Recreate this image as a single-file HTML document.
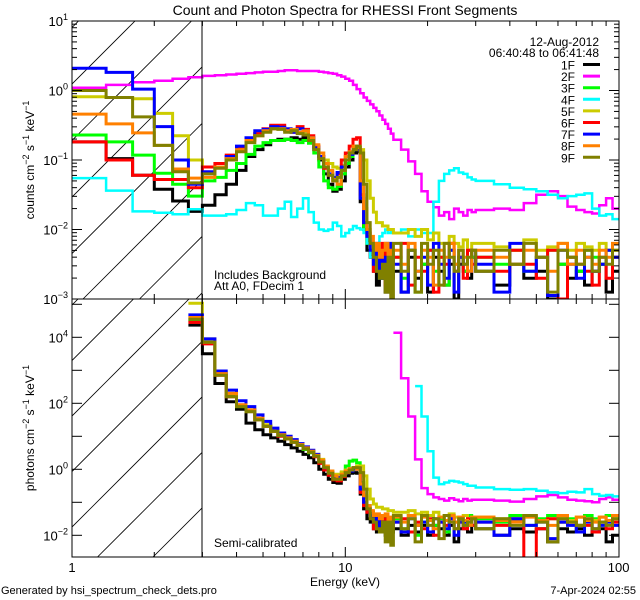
<!DOCTYPE html>
<html><head><meta charset="utf-8">
<style>
html,body{margin:0;padding:0;background:#fff;width:640px;height:600px;overflow:hidden;}
svg{display:block;font-family:"Liberation Sans","DejaVu Sans",sans-serif;}
</style></head>
<body>
<svg id="chart" width="640" height="600" viewBox="0 0 640 600" xmlns="http://www.w3.org/2000/svg">
<defs>
<clipPath id="clipTop"><rect x="72" y="21" width="547" height="278"/></clipPath>
<clipPath id="clipBot"><rect x="72" y="299" width="547" height="258"/></clipPath>
<clipPath id="hatchTop"><rect x="72" y="21" width="130" height="278"/></clipPath>
<clipPath id="hatchBot"><rect x="72" y="299" width="130" height="258"/></clipPath>
</defs>
<text x="345" y="15" font-size="14" text-anchor="middle">Count and Photon Spectra for RHESSI Front Segments</text>
<g id="hatch"></g>
<g id="series"></g>
<g id="axes"></g>
<rect x="72" y="21" width="547" height="278" fill="none" stroke="#000" stroke-width="1"/>
<rect x="72" y="299" width="547" height="258" fill="none" stroke="#000" stroke-width="1"/>
<line x1="202" y1="21" x2="202" y2="299" stroke="#000" stroke-width="1"/>
<line x1="202" y1="299" x2="202" y2="557" stroke="#000" stroke-width="1"/>
<text transform="translate(34,160) rotate(-90)" font-size="12" text-anchor="middle">counts cm<tspan dy="-5" font-size="9">−2</tspan><tspan dy="5"> s</tspan><tspan dy="-5" font-size="9">−1</tspan><tspan dy="5"> keV</tspan><tspan dy="-5" font-size="9">−1</tspan></text>
<text transform="translate(34,428) rotate(-90)" font-size="12" text-anchor="middle">photons cm<tspan dy="-5" font-size="9">−2</tspan><tspan dy="5"> s</tspan><tspan dy="-5" font-size="9">−1</tspan><tspan dy="5"> keV</tspan><tspan dy="-5" font-size="9">−1</tspan></text>
<text x="345" y="586" font-size="12" text-anchor="middle">Energy (keV)</text>
<text x="214" y="279" font-size="12">Includes Background</text>
<text x="214" y="290" font-size="12">Att A0, FDecim 1</text>
<text x="214" y="547" font-size="12">Semi-calibrated</text>
<text x="1" y="594" font-size="11">Generated by hsi_spectrum_check_dets.pro</text>
<text x="636" y="594" font-size="11" text-anchor="end">7-Apr-2024 02:55</text>
<text x="599" y="46" font-size="12" text-anchor="end">12-Aug-2012</text>
<text x="599" y="57" font-size="12" text-anchor="end">06:40:48 to 06:41:48</text>
<g id="legend"></g>
</svg>
<script>
// ---- data (log10 values) ----
const detectors = ["1F","2F","3F","4F","5F","6F","7F","8F","9F"];
const colors = ["#000000","#ff00ff","#00ff00","#00ffff","#cccc00","#ff0000","#0000ff","#ff8000","#808000"];
const xTickLabels = ["1","10","100"];
const topYTickExp = ["1","0","−1","−2","−3"];
const botYTickExp = ["4","2","0","−2"];
const energyEdges = [];
for (let i = 0; i <= 42; i++) energyEdges.push(1 + i/3);
for (let e = 16; e <= 30; e++) energyEdges.push(e);
for (let e = 35; e <= 100; e += 5) energyEdges.push(e);
const N = null;
const c1F = [-0.74,-0.98,-1.22,-1.42,-1.59,-1.74, -1.65,-1.5,-1.35,-1.15,-0.95,-0.85,-0.78,-0.72,-0.7,-0.7,-0.68,-0.7,-0.68,-0.72,-0.85,-1.0,-1.2,-1.35,-1.45,-1.42,-1.3,-1.1,-1.0,-0.9,-0.88,-1.6,-2.0,-2.3,-2.4,-2.6,-2.8,-2.5,-2.7,-2.9,-2.5,-2.7, -2.6,-2.9,-2.4,-2.7,-2.5,-2.9,-2.4,-2.6,-2.8,-2.5,-3.0,-2.5,-2.6,-2.7,-2.4, -2.6,-2.8,-2.5,-2.7,-2.6,-3.0,-2.5,-2.7,-2.6,-2.8,-2.6,-2.5,-2.9,-2.6];
const c2F = [0.04,0.08,0.12,0.14,0.17,0.19, 0.21,0.22,0.23,0.24,0.25,0.26,0.27,0.27,0.28,0.29,0.29,0.28,0.28,0.28,0.28,0.27,0.26,0.25,0.24,0.22,0.2,0.17,0.14,0.08,0.02,-0.04,-0.1,-0.15,-0.2,-0.25,-0.3,-0.36,-0.42,-0.48,-0.55,-0.62, -0.71,-0.85,-1.02,-1.2,-1.45,-1.6,-1.68,-1.8,-1.75,-1.85,-1.7,-1.75,-1.8,-1.72,-1.75, -1.72,-1.7,-1.72,-1.62,-1.5,-1.45,-1.52,-1.67,-1.72,-1.75,-1.77,-1.65,-1.55,-1.7];
const c3F = [-0.64,-0.74,-0.93,-1.19,-1.35,-1.52, -1.3,-1.25,-1.15,-1.05,-0.92,-0.8,-0.75,-0.72,-0.72,-0.7,-0.72,-0.75,-0.72,-0.76,-0.9,-1.1,-1.3,-1.4,-1.42,-1.38,-1.2,-1.05,-0.95,-0.82,-0.82,-1.5,-2.0,-2.2,-2.3,-2.5,-2.3,-2.7,-2.4,-2.3,-2.8,-2.4, -2.4,-2.7,-2.3,-2.9,-2.5,-2.3,-2.6,-2.4,-2.8,-2.3,-2.5,-2.4,-2.6,-2.3,-2.4, -2.4,-2.5,-2.3,-2.6,-2.4,-2.3,-2.5,-2.4,-2.6,-2.3,-2.4,-2.5,-2.3,-2.4];
const c4F = [-1.26,-1.44,-1.74,-1.76,-1.78,-1.71, -1.8,-1.8,-1.78,-1.72,-1.62,-1.65,-1.8,-1.8,-1.7,-1.6,-1.82,-1.7,-1.55,-1.75,-1.9,-2.0,-2.02,-2.0,-1.9,-1.95,-2.1,-2.05,-2.0,-1.95,-1.98,-2.0,-2.05,-2.2,-2.4,-2.45,-2.2,-2.1,-2.05,-2.0,-2.05,-2.02, -2.05,-2.0,-2.1,-2.0,-2.05,-2.05,-1.6,-1.3,-1.2,-1.15,-1.12,-1.18,-1.2,-1.25,-1.28, -1.3,-1.35,-1.4,-1.42,-1.45,-1.5,-1.55,-1.52,-1.5,-1.48,-1.7,-1.8,-1.78,-1.85];
const c5F = [-0.09,-0.1,-0.12,-0.33,-0.65,-1.0, -1.1,-1.1,-0.95,-0.82,-0.7,-0.62,-0.58,-0.55,-0.55,-0.57,-0.58,-0.6,-0.62,-0.7,-0.8,-0.9,-1.0,-1.05,-1.1,-1.12,-1.08,-1.0,-0.9,-0.85,-0.82,-0.85,-1.0,-1.3,-1.55,-1.75,-1.9,-1.9,-1.95,-1.95,-2.0,-2.0, -2.05,-2.05,-2.0,-2.1,-2.0,-2.15,-2.05,-2.2,-2.2,-2.1,-2.2,-2.25,-2.15,-2.3,-2.2, -2.2,-2.25,-2.3,-2.15,-2.3,-2.25,-2.2,-2.3,-2.2,-2.25,-2.3,-2.2,-2.3,-2.3];
const c6F = [-0.74,-1.0,-1.22,-1.28,-1.28,-1.4, -1.1,-1.05,-0.93,-0.83,-0.7,-0.62,-0.55,-0.5,-0.5,-0.57,-0.6,-0.52,-0.56,-0.65,-0.8,-0.95,-1.12,-1.22,-1.3,-1.2,-1.0,-0.9,-0.8,-0.7,-0.68,-1.5,-1.9,-2.05,-2.2,-2.6,-2.3,-2.5,-2.2,-2.8,-2.4,-2.3, -2.4,-2.2,-2.8,-2.4,-2.6,-2.3,-2.9,-2.4,-2.5,-2.2,-2.6,-2.4,-2.7,-2.3,-2.5, -2.4,-2.6,-2.3,-2.5,-2.7,-2.3,-3.0,-2.4,-2.5,-2.6,-2.8,-2.4,-2.7,-2.4];
const c7F = [0.32,0.26,0.02,-0.52,-1.0,-1.35, -1.17,-1.1,-0.95,-0.8,-0.68,-0.58,-0.56,-0.52,-0.53,-0.55,-0.6,-0.55,-0.58,-0.68,-0.82,-0.95,-1.1,-1.2,-1.25,-1.18,-1.1,-1.0,-0.92,-0.85,-0.85,-1.55,-1.9,-2.1,-2.3,-2.5,-2.2,-2.7,-2.4,-2.6,-2.2,-2.4, -2.5,-2.9,-2.3,-2.6,-2.4,-2.8,-2.2,-2.5,-2.7,-2.3,-2.9,-2.4,-2.5,-2.6,-2.3, -2.5,-2.9,-2.2,-2.6,-2.4,-2.95,-2.3,-2.5,-2.7,-2.4,-2.6,-2.5,-2.3,-2.4];
const c8F = [-0.34,-0.48,-0.61,-0.79,-1.13,-1.26, -1.25,-1.1,-0.98,-0.85,-0.72,-0.65,-0.58,-0.55,-0.55,-0.58,-0.56,-0.6,-0.58,-0.68,-0.78,-0.9,-1.05,-1.15,-1.28,-1.35,-1.15,-0.95,-0.88,-0.8,-0.82,-1.3,-1.7,-2.0,-2.1,-2.3,-2.2,-2.4,-2.3,-2.2,-2.5,-2.3, -2.3,-2.5,-2.2,-2.6,-2.3,-2.4,-2.8,-2.3,-2.4,-2.2,-2.5,-2.3,-2.4,-2.6,-2.3, -2.3,-2.4,-2.5,-2.3,-2.4,-2.6,-2.2,-2.5,-2.3,-2.4,-2.5,-2.3,-2.4,-2.2];
const c9F = [0.0,-0.1,-0.38,-0.79,-1.17,-1.33, -1.2,-1.12,-1.0,-0.88,-0.75,-0.65,-0.6,-0.55,-0.56,-0.6,-0.58,-0.62,-0.64,-0.72,-0.85,-0.98,-1.1,-1.22,-1.3,-1.25,-1.15,-1.0,-0.9,-0.85,-0.8,-0.9,-1.35,-1.9,-2.2,-2.4,-2.6,-2.7,-2.5,-2.9,-2.4,-3.0, -2.2,-2.6,-2.3,-2.9,-2.2,-2.5,-2.3,-2.8,-2.2,-2.4,-2.6,-2.3,-2.5,-2.4,-2.3, -2.6,-2.3,-2.5,-2.2,-2.4,-2.9,-2.3,-2.4,-2.5,-2.3,-2.6,-2.4,-2.5,-2.3];
const p1F = [N,N,N,N,N,4.37, 3.5,2.6,2.05,1.82,1.4,1.2,1.05,0.95,0.85,0.75,0.65,0.55,0.45,0.35,0.2,0.0,-0.15,-0.3,-0.4,-0.42,-0.3,-0.2,-0.12,-0.1,-0.12,-0.75,-1.2,-1.5,-1.6,-1.8,-1.9,-1.7,-1.9,-2.0,-1.7,-1.9, -1.8,-2.0,-1.7,-1.9,-1.7,-2.0,-1.7,-1.8,-2.0,-1.7,-2.2,-1.8,-1.8,-1.9,-1.7, -1.8,-2.0,-1.8,-1.9,-1.8,-2.2,-1.8,-1.9,-1.8,-2.0,-1.9,-1.8,-2.2,-2.0];
const p2F = [N,N,N,N,N,N, N,N,N,N,N,N,N,N,N,N,N,N,N,N,N,N,N,N,N,N,N,N,N,N,N,N,N,N,N,N,N,N,N,N,N,N, 4.14,2.76,1.6,0.3,-0.57,-0.75,-0.85,-0.9,-0.95,-0.88,-0.92,-0.97,-0.9,-0.95,-0.92, -0.92,-0.95,-0.98,-0.9,-0.82,-0.78,-0.85,-0.92,-0.95,-0.97,-1.0,-0.9,-0.85,-0.92];
const p3F = [N,N,N,N,N,4.5, 3.85,2.9,2.25,1.9,1.75,1.5,1.32,1.18,1.02,0.92,0.82,0.72,0.6,0.5,0.4,0.25,0.05,-0.15,-0.25,-0.25,-0.1,0.1,0.25,0.28,0.2,-0.4,-0.85,-1.1,-1.3,-1.5,-1.4,-1.8,-1.5,-1.4,-1.9,-1.5, -1.5,-1.8,-1.4,-2.0,-1.6,-1.4,-1.7,-1.5,-1.9,-1.4,-1.6,-1.5,-1.7,-1.4,-1.5, -1.5,-1.6,-1.4,-1.7,-1.5,-1.4,-1.6,-1.5,-1.7,-1.4,-1.5,-1.6,-1.4,-1.5];
const p4F = [N,N,N,N,N,N, N,N,N,N,N,N,N,N,N,N,N,N,N,N,N,N,N,N,N,N,N,N,N,N,N,N,N,N,N,N,N,N,N,N,N,N, N,N,N,2.52,1.6,0.55,-0.25,-0.45,-0.4,-0.35,-0.37,-0.4,-0.45,-0.5,-0.5, -0.55,-0.6,-0.62,-0.6,-0.65,-0.7,-0.72,-0.68,-0.7,-0.6,-0.75,-0.8,-0.78,-0.82];
const p5F = [N,N,N,N,N,5.03, 3.95,2.95,2.3,1.95,1.8,1.55,1.35,1.2,1.05,0.95,0.85,0.75,0.65,0.55,0.45,0.3,0.1,-0.05,-0.15,-0.15,-0.08,-0.02,0.0,0.05,0.1,0.1,-0.2,-0.6,-0.9,-1.05,-1.15,-1.15,-1.2,-1.2,-1.25,-1.25, -1.3,-1.3,-1.25,-1.35,-1.3,-1.4,-1.3,-1.45,-1.4,-1.35,-1.45,-1.5,-1.4,-1.5,-1.45, -1.45,-1.5,-1.55,-1.4,-1.55,-1.5,-1.45,-1.55,-1.45,-1.5,-1.55,-1.45,-1.55,-1.5];
const p6F = [N,N,N,N,N,4.45, 3.8,2.85,2.2,1.95,1.75,1.5,1.3,1.15,1.0,0.92,0.82,0.72,0.62,0.52,0.38,0.18,-0.02,-0.18,-0.32,-0.35,-0.22,-0.1,-0.02,0.02,0.02,-0.7,-1.1,-1.3,-1.45,-1.8,-1.5,-1.7,-1.5,-1.9,-1.6,-1.5, -1.6,-1.5,-1.9,-1.6,-1.8,-1.5,-2.0,-1.6,-1.7,-1.5,-1.8,-1.6,-1.8,-1.5,-1.7, -1.6,-1.7,-1.5,-2.8,-1.8,-1.5,-1.6,-1.6,-1.7,-1.7,-1.9,-1.6,-1.8,-1.6];
const p7F = [N,N,N,N,N,4.68, 3.95,2.98,2.4,2.08,1.9,1.65,1.45,1.25,1.1,1.0,0.9,0.78,0.68,0.58,0.45,0.25,0.05,-0.1,-0.22,-0.25,-0.18,-0.1,-0.05,0.0,0.02,-0.6,-1.0,-1.2,-1.4,-1.6,-1.4,-1.8,-1.6,-1.7,-1.5,-1.7, -1.6,-1.9,-1.5,-1.7,-1.6,-1.9,-1.5,-1.6,-1.8,-1.5,-2.0,-1.6,-1.6,-1.7,-1.5, -1.6,-2.0,-1.5,-1.7,-1.6,-2.1,-1.6,-1.7,-1.9,-1.6,-1.8,-1.7,-1.6,-1.7];
const p8F = [N,N,N,N,N,4.6, 3.85,2.9,2.3,1.95,1.8,1.55,1.3,1.15,1.05,0.95,0.85,0.75,0.65,0.55,0.42,0.28,0.1,-0.05,-0.2,-0.3,-0.15,-0.05,0.02,0.05,0.0,-0.45,-0.8,-1.1,-1.25,-1.4,-1.35,-1.5,-1.4,-1.35,-1.6,-1.45, -1.45,-1.6,-1.4,-1.7,-1.45,-1.55,-1.8,-1.45,-1.55,-1.4,-1.6,-1.45,-1.55,-1.7,-1.45, -1.45,-1.55,-1.6,-1.45,-1.55,-1.7,-1.4,-1.6,-1.45,-1.55,-1.6,-1.45,-1.55,-1.4];
const p9F = [N,N,N,N,N,4.55, 3.85,2.85,2.2,1.9,1.75,1.5,1.3,1.15,1.02,0.92,0.82,0.72,0.62,0.52,0.4,0.22,0.05,-0.12,-0.3,-0.3,-0.2,-0.1,-0.02,0.05,0.05,-0.1,-0.6,-1.2,-1.5,-1.6,-1.8,-1.9,-1.6,-2.2,-1.6,-2.3, -1.4,-1.8,-1.5,-2.2,-1.4,-1.7,-1.5,-2.1,-1.4,-1.6,-1.8,-1.5,-1.7,-1.6,-1.5, -1.8,-1.5,-1.7,-1.4,-1.6,-2.2,-1.5,-1.6,-1.7,-1.5,-1.8,-1.6,-1.7,-1.5];
const countSeries = [c1F,c2F,c3F,c4F,c5F,c6F,c7F,c8F,c9F];
const photonSeries = [p1F,p2F,p3F,p4F,p5F,p6F,p7F,p8F,p9F];

// ---- axes ----
const NS = "http://www.w3.org/2000/svg";
const xs = e => 72 + 273.3 * Math.log10(e);
const yTop = v => 299 - (v + 3) * 69.5;
const yBot = v => 337.3 - (v - 4) * 33;
function mk(tag, attrs, parent) {
  const el = document.createElementNS(NS, tag);
  for (const k in attrs) el.setAttribute(k, attrs[k]);
  parent.appendChild(el);
  return el;
}
const hatch = document.getElementById('hatch');
const series = document.getElementById('series');
const axes = document.getElementById('axes');
const legend = document.getElementById('legend');

const hTop = mk('g', {'clip-path':'url(#hatchTop)'}, hatch);
for (let c = 99.5; c < 520; c += 56.5) {
  const l = mk('line', {x1: 0, y1: c, x2: c, y2: 0, stroke:'#000', 'stroke-width':0.8}, hTop);
  
  
}
const hBot = mk('g', {'clip-path':'url(#hatchBot)'}, hatch);
for (let c = 321.5; c < 780; c += 55.5) {
  const l = mk('line', {x1: 0, y1: c, x2: c, y2: 0, stroke:'#000', 'stroke-width':0.8}, hBot);
  
  
}

function stepPath(vals, yf) {
  let d = '', prev = false;
  for (let i = 0; i < vals.length; i++) {
    const v = vals[i];
    if (v === null || v === undefined) { prev = false; continue; }
    const x0 = xs(energyEdges[i]).toFixed(1), x1 = xs(energyEdges[i+1]).toFixed(1), y = yf(v).toFixed(1);
    d += (prev ? 'L' : 'M') + x0 + ' ' + y + 'L' + x1 + ' ' + y;
    prev = true;
  }
  return d;
}
const gTop = mk('g', {'clip-path':'url(#clipTop)'}, series);
const gBot = mk('g', {'clip-path':'url(#clipBot)'}, series);
for (let s = 0; s < detectors.length; s++) {
  const w = (s === 1 || s === 3) ? 2.5 : 3;
  const pt = mk('path', {d: stepPath(countSeries[s], yTop), fill:'none', stroke: colors[s], 'stroke-width': w, 'stroke-linejoin':'miter'}, gTop);
  
  
  const pb = mk('path', {d: stepPath(photonSeries[s], yBot), fill:'none', stroke: colors[s], 'stroke-width': w, 'stroke-linejoin':'miter'}, gBot);
  
  
}

const panels = [[21, 299], [299, 557]];
for (const [t, b] of panels) {
  for (let dec = 1; dec <= 10; dec *= 10) {
    for (let m = 1; m <= 9; m++) {
      const e = dec * m; if (e > 100) break;
      const x = xs(e); const len = (m === 1) ? 10 : 5;
      const t1 = mk('line', {x1:x, y1:b, x2:x, y2:b-len, stroke:'#000', 'stroke-width':1}, axes);
      
      
      const t2 = mk('line', {x1:x, y1:t, x2:x, y2:t+len, stroke:'#000', 'stroke-width':1}, axes);
      
      
    }
  }
}
[1, 10, 100].forEach((e, i) => {
  const tx = mk('text', {x: xs(e), y: 572, 'font-size': 13, 'text-anchor':'middle'}, axes);
  
  
  tx.textContent = xTickLabels[i];
});
for (let d = -3; d <= 1; d++) {
  for (let m = 1; m <= 9; m++) {
    const v = d + Math.log10(m); if (v > 1) break;
    const y = yTop(v); const len = (m === 1) ? 10 : 5;
    const a = mk('line', {x1:72, y1:y, x2:72+len, y2:y, stroke:'#000','stroke-width':1}, axes);
    
    
    const b2 = mk('line', {x1:619, y1:y, x2:619-len, y2:y, stroke:'#000','stroke-width':1}, axes);
    
    
  }
}
function expLabel(x, y, exp, name) {
  const tx = mk('text', {x:x, y:y, 'font-size':13, 'text-anchor':'end'}, axes);
  
  
  const a = document.createElementNS(NS, 'tspan'); a.textContent = '10'; tx.appendChild(a);
  const b = document.createElementNS(NS, 'tspan'); b.setAttribute('dy', '-6'); b.setAttribute('font-size', '9'); b.textContent = exp; tx.appendChild(b);
}
topYTickExp.forEach((ex, i) => expLabel(68, yTop(1 - i) + 5, ex, 'top-y-tick-label'));
for (let d = -2; d <= 5; d++) {
  const y = yBot(d);
  const a = mk('line', {x1:72, y1:y, x2:82, y2:y, stroke:'#000','stroke-width':1}, axes);
  
  
  const b2 = mk('line', {x1:619, y1:y, x2:609, y2:y, stroke:'#000','stroke-width':1}, axes);
  
  
}
botYTickExp.forEach((ex, i) => expLabel(68, yBot(4 - 2*i) + 5, ex, 'bottom-y-tick-label'));

for (let s = 0; s < detectors.length; s++) {
  const y = 64.5 + s * 11.6;
  const g = mk('g', {}, legend);
  
  
  const t = mk('text', {x:575, y:y+5, 'font-size':12, 'text-anchor':'end'}, g);
  t.textContent = detectors[s];
  mk('line', {x1:583, y1:y, x2:600, y2:y, stroke:colors[s], 'stroke-width':3}, g);
}
</script>
</body></html>
